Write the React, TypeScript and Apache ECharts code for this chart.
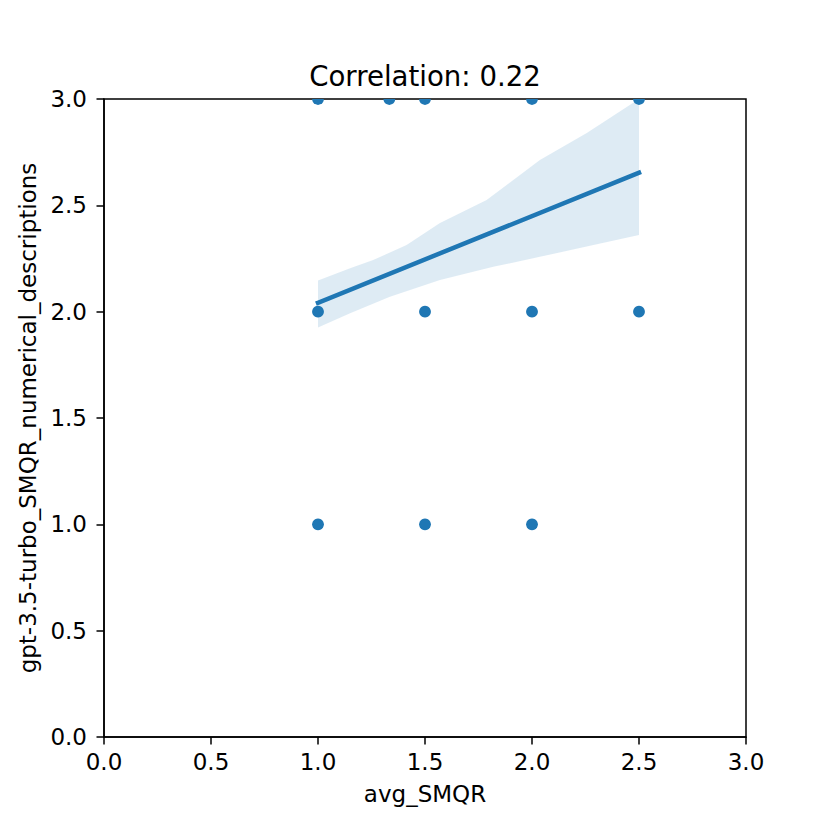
import React, { useEffect, useRef } from "react";
import * as echarts from "echarts";

const pointsX = [1.0, 1.3333, 1.5, 2.0, 2.5, 1.0, 1.5, 2.0, 2.5, 1.0, 1.5, 2.0];
const pointsY = [3, 3, 3, 3, 3, 2, 2, 2, 2, 1, 1, 1];

const fitX = [1.0, 2.5];
const fitY = [2.042, 2.653];

const bandUpperX = [1.0, 1.15, 1.258, 1.414, 1.57, 1.788, 2.037, 2.256, 2.5];
const bandUpperY = [2.146, 2.204, 2.243, 2.313, 2.417, 2.525, 2.713, 2.84, 3.0];
const bandLowerX = [1.0, 1.15, 1.336, 1.57, 1.819, 2.037, 2.287, 2.5];
const bandLowerY = [1.926, 1.992, 2.07, 2.149, 2.211, 2.258, 2.313, 2.36];

const titleText = "Correlation: 0.22";
const xName = "avg_SMQR";
const yName = "gpt-3.5-turbo_SMQR_numerical_descriptions";

const FONT = "DejaVu Sans";
const BLUE = "#1f77b4";

export default function App() {
  const ref = useRef<HTMLDivElement>(null);
  useEffect(() => {
    if (!ref.current) return;
    const chart = echarts.init(ref.current, null, { renderer: "svg" });
    const bandPoly: number[][] = [];
    bandUpperX.forEach((x, i) => bandPoly.push([x, bandUpperY[i]]));
    for (let i = bandLowerX.length - 1; i >= 0; i--) bandPoly.push([bandLowerX[i], bandLowerY[i]]);

    const axisCommon = {
      type: "value" as const,
      min: 0,
      max: 3,
      interval: 0.5,
      nameLocation: "middle" as const,
      nameTextStyle: { fontFamily: FONT, fontSize: 23, color: "#000" },
      axisLine: { show: true, onZero: false, lineStyle: { color: "#000", width: 1.5 } },
      axisTick: { show: true, length: 7.5, lineStyle: { color: "#000", width: 1.5 } },
      axisLabel: {
        fontFamily: FONT,
        fontSize: 23,
        color: "#000",
        formatter: (v: number) => v.toFixed(1),
      },
      splitLine: { show: false },
    };

    chart.setOption({
      animation: false,
      backgroundColor: "#fff",
      title: {
        text: titleText,
        left: 420,
        top: 57,
        textAlign: "center",
        textStyle: { fontFamily: FONT, fontSize: 27.6, fontWeight: "normal", color: "#000" },
      },
      grid: {
        left: 104,
        top: 99,
        width: 642,
        height: 638,
        show: true,
        borderColor: "#000",
        borderWidth: 1.5,
        backgroundColor: "transparent",
      },
      xAxis: {
        ...axisCommon,
        name: xName,
        nameGap: 45,
        axisLabel: { ...axisCommon.axisLabel, margin: 13 },
      },
      yAxis: {
        ...axisCommon,
        name: yName,
        nameGap: 60,
        axisLabel: { ...axisCommon.axisLabel, margin: 17 },
      },
      series: [
        {
          type: "custom",
          renderItem: (params: any, api: any) => {
            const pts = bandPoly.map((p) => api.coord(p));
            return {
              type: "polygon",
              shape: { points: pts },
              style: { fill: BLUE, opacity: 0.15 },
            };
          },
          data: [0],
          silent: true,
          clip: true,
          z: 1,
        },
        {
          type: "custom",
          data: pointsX.map((x, i) => [x, pointsY[i]]),
          renderItem: (params: any, api: any) => {
            const c = api.coord([api.value(0), api.value(1)]);
            return {
              type: "circle",
              shape: { cx: c[0], cy: c[1], r: 5.9 },
              style: { fill: BLUE },
            };
          },
          clip: true,
          silent: true,
          z: 2,
        },
        {
          type: "line",
          data: fitX.map((x, i) => [x, fitY[i]]),
          showSymbol: false,
          lineStyle: { color: BLUE, width: 4.5, cap: "square" },
          z: 3,
        },
      ],
    });
    return () => chart.dispose();
  }, []);
  return (
    <div
      ref={ref}
      style={{ position: "absolute", left: 0, top: 0, width: 830, height: 830 }}
    />
  );
}
